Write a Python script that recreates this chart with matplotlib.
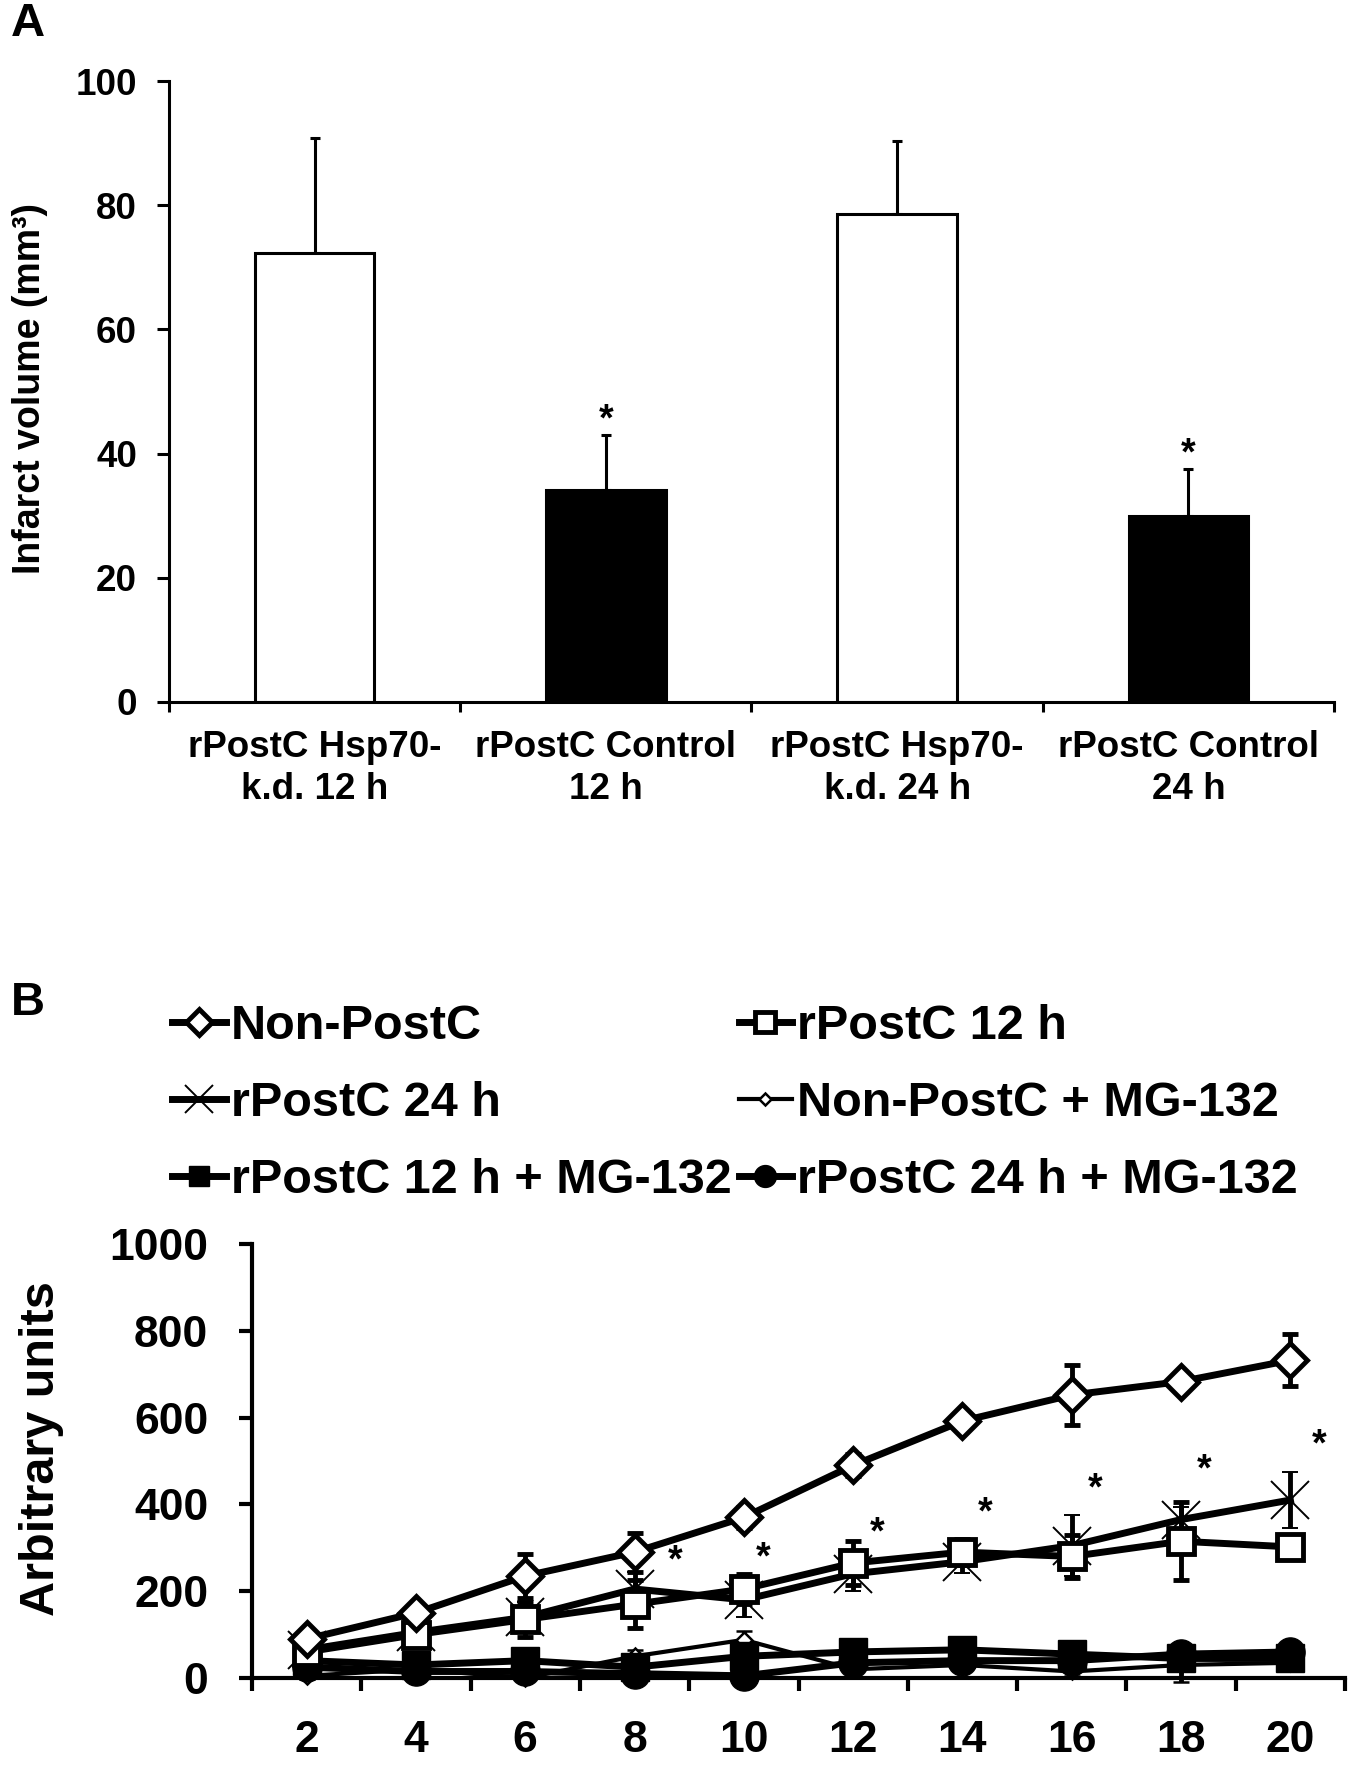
import matplotlib

matplotlib.use("Agg")
import matplotlib.pyplot as plt

plt.rcParams["font.family"] = ["Liberation Sans", "DejaVu Sans"]
plt.rcParams["font.weight"] = "bold"

# panel A: infarct volume
groups = ["rPostC Hsp70-\nk.d. 12 h", "rPostC Control\n12 h", "rPostC Hsp70-\nk.d. 24 h", "rPostC Control\n24 h"]
volume = [72.3, 34.2, 78.6, 30.0]
volume_sem = [18.6, 8.8, 11.7, 7.5]
volume_sig = [False, True, False, True]
bar_colors = ["white", "black", "white", "black"]

# panel B: time course
hours = [2, 4, 6, 8, 10, 12, 14, 16, 18, 20]
non_postc = [90, 150, 235, 290, 370, 490, 592, 652, 683, 732]
non_postc_sem = [15, 20, 50, 45, 25, 25, 15, 70, 20, 60]
rpostc_12 = [60, 100, 135, 170, 205, 265, 290, 280, 315, 302]
rpostc_12_sem = [15, 20, 40, 55, 35, 50, 30, 50, 90, 25]
rpostc_24 = [65, 105, 140, 205, 180, 240, 268, 305, 365, 410]
rpostc_24_sem = [10, 15, 35, 40, 40, 40, 25, 70, 30, 65]
non_postc_mg = [5, 20, 0, 50, 88, 20, 30, 15, 30, 35]
non_postc_mg_sem = [8, 8, 8, 15, 20, 10, 10, 10, 40, 10]
rpostc_12_mg = [40, 30, 40, 25, 50, 60, 65, 55, 45, 45]
rpostc_12_mg_sem = [10, 10, 10, 10, 15, 10, 10, 10, 15, 10]
rpostc_24_mg = [25, 15, 15, 10, 5, 35, 40, 40, 55, 60]
rpostc_24_mg_sem = [10, 8, 8, 8, 8, 10, 10, 10, 15, 10]
star_x = [8.75, 10.36, 12.44, 14.42, 16.42, 18.42, 20.53]
star_y = [269, 276, 334, 378, 435, 479, 535]

fig = plt.figure(figsize=(13.68, 17.66), dpi=100)

# ---- A ----
axA = fig.add_axes([0.1235, 0.6025, 0.8516, 0.3516])
pos = [i + 0.5 for i in range(len(groups))]
axA.bar(pos, volume, width=0.41, color=bar_colors, edgecolor="black", linewidth=2.2, zorder=2)
axA.errorbar(pos, volume, yerr=[[0] * len(volume), volume_sem], fmt="none", ecolor="black",
             elinewidth=2.2, capsize=3.5, capthick=2.2, zorder=1)
for p, v, e, s in zip(pos, volume, volume_sem, volume_sig):
    if s:
        axA.text(p, v + e - 0.6, "*", ha="center", va="bottom", fontsize=27)
axA.set_xlim(0, 4)
axA.set_ylim(0, 100)
axA.set_yticks([0, 20, 40, 60, 80, 100])
axA.set_xticks([0, 1, 2, 3, 4])
axA.set_xticklabels([])
axA.set_xticks(pos, minor=True)
axA.set_xticklabels(groups, minor=True, fontsize=26.5, linespacing=1.25)
axA.tick_params(axis="x", which="major", direction="out", length=7, width=2.2)
axA.tick_params(axis="x", which="minor", length=0, pad=20)
axA.tick_params(axis="y", direction="out", length=9, width=2.2, labelsize=26.5, pad=14)
for sp in ["top", "right"]:
    axA.spines[sp].set_visible(False)
for sp in ["left", "bottom"]:
    axA.spines[sp].set_linewidth(2.2)
fig.text(0.022, 1 - 388 / 1766, "Infarct volume (mm³)", rotation=90, ha="center", va="center", fontsize=27)
fig.text(0.008, 1 - 24 / 1766, "A", ha="left", va="center", fontsize=34)

# ---- B ----
axB = fig.add_axes([0.1842, 0.04983, 0.799, 0.2458])
lw = 5
eb = dict(ecolor="black", elinewidth=3.5, capsize=5.5, capthick=3.5)
series = [
    ("Non-PostC + MG-132", non_postc_mg, non_postc_mg_sem, dict(marker="D", ms=8, mfc="white", mec="black", mew=1.8, lw=3)),
    ("rPostC 24 h + MG-132", rpostc_24_mg, rpostc_24_mg_sem, dict(marker="o", ms=21, mfc="black", mec="black", lw=lw)),
    ("rPostC 12 h + MG-132", rpostc_12_mg, rpostc_12_mg_sem, dict(marker="s", ms=20, mfc="black", mec="black", lw=lw)),
    ("rPostC 24 h", rpostc_24, rpostc_24_sem, dict(marker="x", ms=27, mec="black", mew=1.4, lw=lw)),
    ("rPostC 12 h", rpostc_12, rpostc_12_sem, dict(marker="s", ms=19, mfc="white", mec="black", mew=3.5, lw=lw)),
    ("Non-PostC", non_postc, non_postc_sem, dict(marker="D", ms=17, mfc="white", mec="black", mew=3.5, lw=lw)),
]
handles = {}
for name, vals, err, st in series:
    h = axB.errorbar(hours, vals, yerr=err, color="black", **eb, **st, label=name, clip_on=False)
    handles[name] = h[0]
for x, y in zip(star_x, star_y):
    axB.text(x, y, "*", ha="center", va="center", fontsize=27)

axB.set_xlim(1, 21)
axB.set_ylim(0, 1000)
axB.set_yticks(range(0, 1001, 200))
axB.set_xticks(range(1, 22, 2))
axB.set_xticklabels([])
axB.set_xticks(hours, minor=True)
axB.set_xticklabels([str(h) for h in hours], minor=True, fontsize=32)
axB.tick_params(axis="x", which="major", direction="out", length=9, width=3)
axB.tick_params(axis="x", which="minor", length=0, pad=30)
axB.tick_params(axis="y", direction="out", length=9.5, width=3, labelsize=32, pad=22)
for sp in ["top", "right"]:
    axB.spines[sp].set_visible(False)
for sp in ["left", "bottom"]:
    axB.spines[sp].set_linewidth(3)
fig.text(0.030, 1 - 1449 / 1766, "Arbitrary units", rotation=90, ha="center", va="center", fontsize=35)
fig.text(0.008, 1 - 1003 / 1766, "B", ha="left", va="center", fontsize=34)

order = ["Non-PostC", "rPostC 24 h", "rPostC 12 h + MG-132",
         "rPostC 12 h", "Non-PostC + MG-132", "rPostC 24 h + MG-132"]
fig.legend([handles[k] for k in order], order, ncol=2, loc="upper left",
           bbox_to_anchor=(0.126, 1 - 1004 / 1766), frameon=False, fontsize=35,
           handlelength=1.1, handletextpad=0.1, columnspacing=0.15, labelspacing=0.66,
           borderpad=0, borderaxespad=0, numpoints=1, markerscale=0.75)

fig.savefig("out.png", dpi=100)
